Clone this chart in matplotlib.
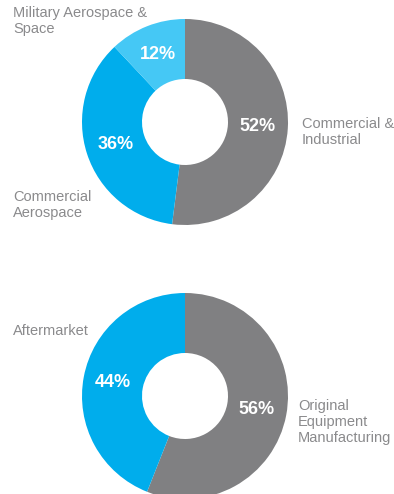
import matplotlib
matplotlib.use("Agg")
import matplotlib.pyplot as plt

plt.rcParams['font.family'] = ['Liberation Sans', 'DejaVu Sans']

# market split
market_labels = ['Commercial &\nIndustrial', 'Commercial\nAerospace', 'Military Aerospace &\nSpace']
market_values = [52, 36, 12]
market_colors = ['#808082', '#00adec', '#45c8f5']

# revenue source split
source_labels = ['Original\nEquipment\nManufacturing', 'Aftermarket']
source_values = [56, 44]
source_colors = ['#808082', '#00adec']

W, H = 394, 494
fig = plt.figure(figsize=(W / 100, H / 100), dpi=100)
ax = fig.add_axes([0, 0, 1, 1])

R = 103
ring = 60


def donut(values, colors, cy):
    ax.pie(values, colors=colors, startangle=90, counterclock=False,
           radius=R, center=(185, H - cy), frame=True,
           wedgeprops=dict(width=ring, linewidth=0),
           autopct='%.0f%%', pctdistance=0.71,
           textprops=dict(color='white', fontsize=13, fontweight='bold'))


donut(market_values, market_colors, 122)
donut(source_values, source_colors, 396)
ax.set_xlim(0, W)
ax.set_ylim(0, H)
ax.set_aspect('equal')
ax.axis('off')

label_kw = dict(color='#8a8a8c', fontsize=10.5, va='center', ha='left', linespacing=1.2)
# label anchor points (px from top-left)
market_pos = [(302, 132), (13, 205), (13, 21)]
source_pos = [(298, 422), (13, 331)]
for txt, (x, y) in zip(market_labels + source_labels, market_pos + source_pos):
    ax.text(x, H - y, txt, **label_kw)

fig.savefig('out.png', dpi=100)
